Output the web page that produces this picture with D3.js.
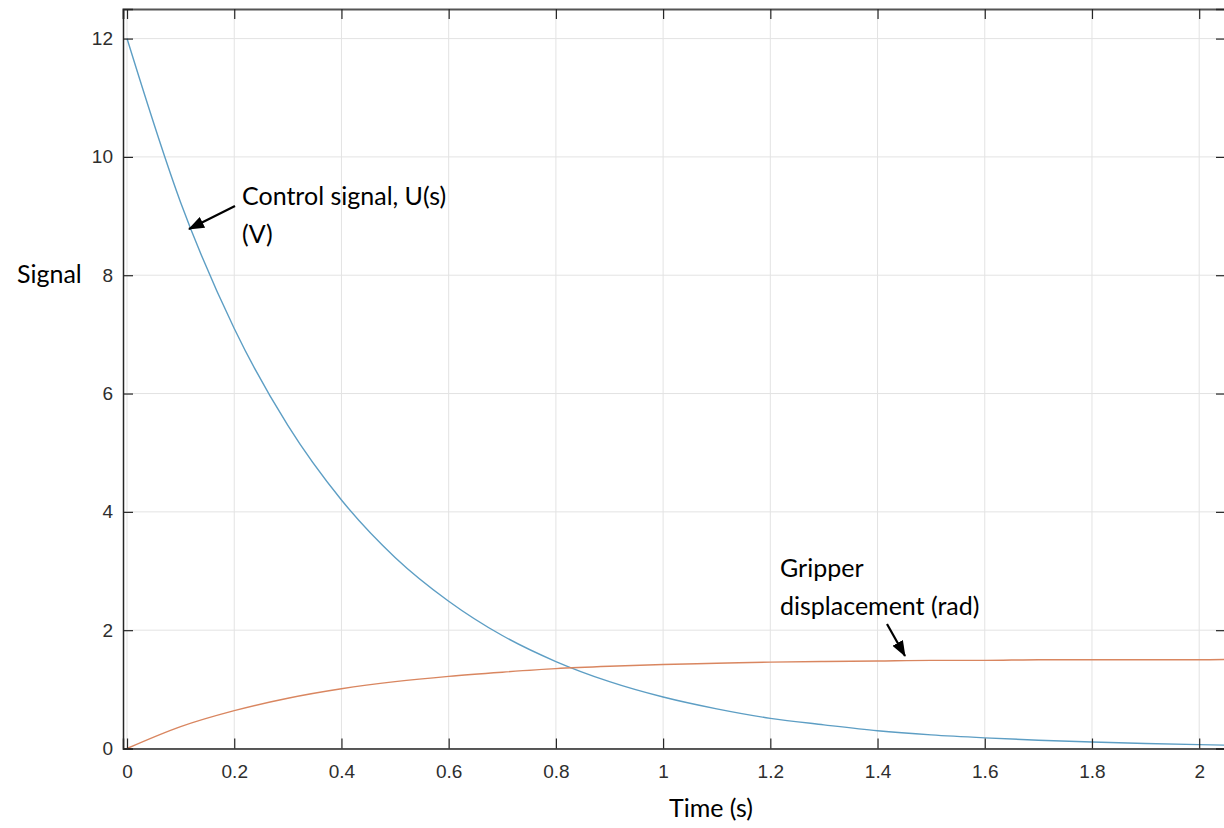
<!DOCTYPE html>
<html><head><meta charset="utf-8">
<script src="https://cdn.jsdelivr.net/npm/d3@7"></script>
<style>body{margin:0;background:#fff;}svg{display:block;} .tick text{font-family:'Liberation Sans',Arial,sans-serif !important;font-size:19px !important;}</style>
</head><body>
<svg id="c" width="1224" height="828"></svg>
<script>
const time = [0,0.1,0.2,0.3,0.4,0.5,0.6,0.7,0.8,0.9,1.0,1.1,1.2,1.3,1.4,1.5,1.6,1.7,1.8,1.9,2.0,2.05];
const controlSignal = [12,9.23,7.10,5.46,4.20,3.23,2.49,1.91,1.47,1.13,0.87,0.67,0.51,0.40,0.30,0.23,0.18,0.14,0.11,0.085,0.065,0.057];
const gripper = [0,0.37,0.64,0.85,1.01,1.13,1.22,1.29,1.35,1.39,1.42,1.44,1.46,1.47,1.48,1.49,1.49,1.50,1.50,1.50,1.50,1.505];
const xTicks = [0,0.2,0.4,0.6,0.8,1,1.2,1.4,1.6,1.8,2];
const yTicks = [0,2,4,6,8,10,12];

const svg = d3.select("#c");
const pLeft = 123, pRight = 1226, pTop = 9, pBottom = 748.5;
const x = d3.scaleLinear().domain([-0.0075, 2.05]).range([pLeft, pRight]);
const y = d3.scaleLinear().domain([0, 12.5]).range([pBottom, pTop]);

// grid
svg.append("g").selectAll("line").data(xTicks).join("line")
  .attr("x1", d => x(d)).attr("x2", d => x(d)).attr("y1", pTop).attr("y2", pBottom)
  .attr("stroke", "#e3e3e3").attr("stroke-width", 1);
svg.append("g").selectAll("line").data(yTicks).join("line")
  .attr("x1", pLeft).attr("x2", pRight).attr("y1", d => y(d)).attr("y2", d => y(d))
  .attr("stroke", "#e3e3e3").attr("stroke-width", 1);

// curves
const line = (ys) => d3.line().x((d, i) => x(time[i])).y(d => y(d)).curve(d3.curveMonotoneX)(ys);
svg.append("path").attr("d", line(controlSignal)).attr("fill", "none")
  .attr("stroke", "#5d9ec4").attr("stroke-width", 1.4);
svg.append("path").attr("d", line(gripper)).attr("fill", "none")
  .attr("stroke", "#d98660").attr("stroke-width", 1.4);

// axes
const xb = svg.append("g").attr("transform", `translate(0,${pBottom})`)
  .call(d3.axisBottom(x).tickValues(xTicks).tickSize(-10).tickPadding(16).tickFormat(d3.format("")));
const xt = svg.append("g").attr("transform", `translate(0,${pTop})`)
  .call(d3.axisTop(x).tickValues(xTicks).tickSize(-10).tickFormat(""));
const yl = svg.append("g").attr("transform", `translate(${pLeft},0)`)
  .call(d3.axisLeft(y).tickValues(yTicks).tickSize(-10).tickPadding(10));
const yr = svg.append("g").attr("transform", `translate(${pRight},0)`)
  .call(d3.axisRight(y).tickValues(yTicks).tickSize(-10).tickFormat(""));
[xb, xt, yl, yr].forEach(g => {
  g.select(".domain").attr("stroke", "#262626").attr("stroke-width", 1.5);
  g.selectAll(".tick line").attr("stroke", "#262626").attr("stroke-width", 1.2);
  g.selectAll(".tick text").attr("fill", "#2e2e2e");
});
xt.select(".domain").attr("stroke", "#555").attr("stroke-width", 2);

// labels
const fontLbl = "Lato, 'Open Sans', sans-serif";
const txt = (s, tx, ty, anchor) => svg.append("text").attr("x", tx).attr("y", ty)
  .style("font-family", fontLbl).style("font-size", "25px").attr("fill", "#000")
  .attr("text-anchor", anchor || "start").text(s);
txt("Signal", 17, 283);
txt("Time (s)", 711, 817, "middle");
txt("Control signal, U(s)", 242, 205);
txt("(V)", 242, 243);
txt("Gripper", 780, 577);
txt("displacement (rad)", 780, 615);

// arrows
const defs = svg.append("defs");
defs.append("marker").attr("id", "ah").attr("viewBox", "0 0 16 12").attr("refX", 15).attr("refY", 6)
  .attr("markerUnits", "userSpaceOnUse").attr("markerWidth", 16).attr("markerHeight", 12).attr("orient", "auto")
  .append("path").attr("d", "M0,0 L16,6 L0,12 z").attr("fill", "#000");
svg.append("line").attr("x1", 235).attr("y1", 206).attr("x2", 189).attr("y2", 229)
  .attr("stroke", "#000").attr("stroke-width", 2.2).attr("marker-end", "url(#ah)");
svg.append("line").attr("x1", 887).attr("y1", 624).attr("x2", 905).attr("y2", 656)
  .attr("stroke", "#000").attr("stroke-width", 2.2).attr("marker-end", "url(#ah)");
</script>
</body></html>
